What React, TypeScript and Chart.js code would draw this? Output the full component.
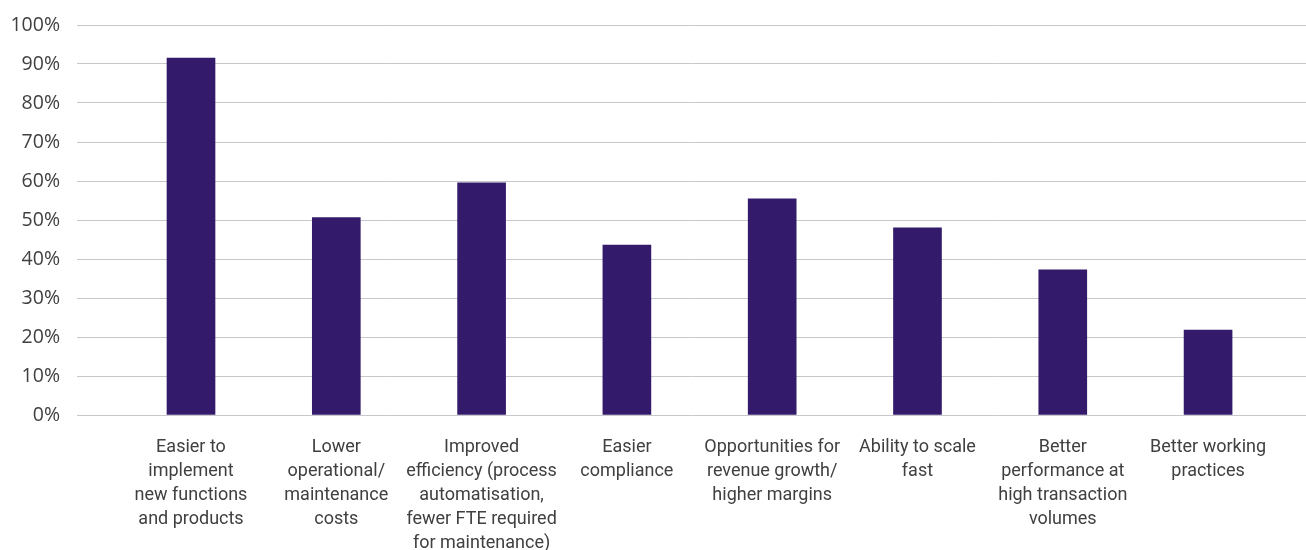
import React, { useEffect, useRef } from "react";
import { Chart, registerables } from "chart.js";

Chart.register(...registerables);

const categories: string[][] = [
  ["Easier to", "implement", "new functions", "and products"],
  ["Lower", "operational/", "maintenance", "costs"],
  ["Improved", "efficiency (process", "automatisation,", "fewer FTE required", "for maintenance)"],
  ["Easier", "compliance"],
  ["Opportunities for", "revenue growth/", "higher margins"],
  ["Ability to scale", "fast"],
  ["Better", "performance at", "high transaction", "volumes"],
  ["Better working", "practices"],
];

const values: number[] = [91.5, 50.6, 59.5, 43.6, 55.4, 48.0, 37.2, 21.8];

const yTicks: number[] = [0, 10, 20, 30, 40, 50, 60, 70, 80, 90, 100];

export default function App() {
  const ref = useRef<HTMLCanvasElement>(null);

  useEffect(() => {
    document.body.style.margin = "0";
    if (!ref.current) return;
    const chart = new Chart(ref.current, {
      type: "bar",
      data: {
        datasets: [
          {
            data: values.map((v, i) => ({ x: i, y: v })),
            backgroundColor: "#341a6b",
            barThickness: 48,
          },
        ],
      },
      options: {
        animation: false,
        responsive: false,
        maintainAspectRatio: false,
        layout: { padding: { top: 25, left: 0, right: 0, bottom: 0 } },
        plugins: { legend: { display: false }, tooltip: { enabled: false } },
        scales: {
          x: {
            type: "linear",
            offset: false,
            min: -0.7846,
            max: 7.674,
            grid: { display: false, drawTicks: false, offset: false },
            border: { display: false },
            afterBuildTicks: (scale: any) => {
              scale.ticks = categories.map((_, i) => ({ value: i }));
            },
            afterFit: (scale: any) => {
              scale.height = 135;
              scale.paddingLeft = 0;
              scale.paddingRight = 0;
            },
            ticks: {
              autoSkip: false,
              maxRotation: 0,
              minRotation: 0,
              padding: 21,
              color: "#404040",
              font: { family: "Roboto", size: 18, lineHeight: 1.333 },
              callback: (v: any) => categories[Math.round(Number(v))] ?? "",
            },
          },
          y: {
            min: 0,
            max: 100,
            afterBuildTicks: (scale: any) => {
              scale.ticks = yTicks.map((v) => ({ value: v }));
            },
            afterFit: (scale: any) => {
              scale.width = 77;
              scale.paddingTop = 0;
              scale.paddingBottom = 0;
            },
            grid: { color: "#c8c8cc", drawTicks: false, lineWidth: 1 },
            border: { display: false },
            ticks: {
              padding: 17,
              color: "#404040",
              font: { family: "Open Sans", size: 19.5 },
              callback: (v: any) => v + "%",
            },
          },
        },
      },
    });
    return () => chart.destroy();
  }, []);

  return (
    <div style={{ width: 1306, height: 550 }}>
      <canvas ref={ref} width={1306} height={550} style={{ width: 1306, height: 550 }} />
    </div>
  );
}
